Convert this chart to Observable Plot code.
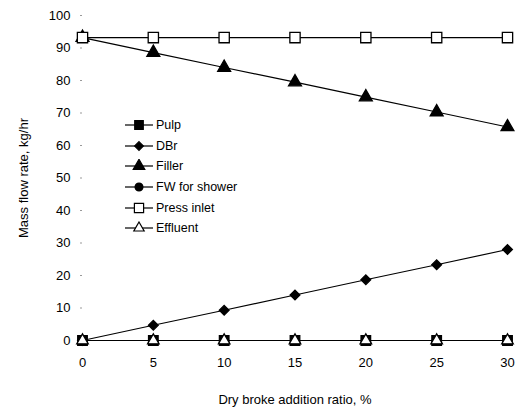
<!DOCTYPE html>
<html>
<head>
<meta charset="utf-8">
<script src="https://cdn.jsdelivr.net/npm/d3@7"></script>
<script src="https://cdn.jsdelivr.net/npm/@observablehq/plot@0.6"></script>
<style>
  body { margin: 0; background: #fff; }
  #wrap { position: relative; width: 515px; height: 410px; font-family: "Liberation Sans", Arial, sans-serif; }
  #legend { position: absolute; left: 124px; top: 115px; font-size: 12.5px; color: #000; }
  #legend .row { display: flex; align-items: center; height: 20.6px; }
  #legend svg { display: block; margin-right: 2px; }
</style>
</head>
<body>
<div id="wrap"><div id="legend"></div></div>
<script>
const ratio = [0, 5, 10, 15, 20, 25, 30];
const pulp = [0, 0, 0, 0, 0, 0, 0];
const dbr = [0, 4.7, 9.3, 14.0, 18.7, 23.3, 28.0];
const filler = [93.2, 88.6, 84.0, 79.5, 74.9, 70.3, 65.7];
const fwShower = [0, 0, 0, 0, 0, 0, 0];
const pressInlet = [93.2, 93.2, 93.2, 93.2, 93.2, 93.2, 93.2];
const effluent = [0, 0, 0, 0, 0, 0, 0];
const yTicks = [0, 10, 20, 30, 40, 50, 60, 70, 80, 90, 100];
const xTicks = [0, 5, 10, 15, 20, 25, 30];

const series = [
  {name: "Pulp", values: pulp, symbol: "square", fill: "black", r: 5.4},
  {name: "DBr", values: dbr, symbol: "diamond2", fill: "black", r: 4.4},
  {name: "Filler", values: filler, symbol: "triangle", fill: "black", r: 4.8},
  {name: "FW for shower", values: fwShower, symbol: "circle", fill: "black", r: 4.4},
  {name: "Press inlet", values: pressInlet, symbol: "square", fill: "white", r: 5.8},
  {name: "Effluent", values: effluent, symbol: "triangle", fill: "white", r: 4.3}
];

const marks = [];
for (const s of series) {
  const data = ratio.map((x, i) => ({x, y: s.values[i]}));
  marks.push(Plot.line(data, {x: "x", y: "y", stroke: "black", strokeWidth: 1.2}));
}
for (const s of series) {
  const data = ratio.map((x, i) => ({x, y: s.values[i]}));
  marks.push(Plot.dot(data, {x: "x", y: "y", symbol: () => s.symbol, fill: s.fill, stroke: "black", strokeWidth: 1.3, r: s.r}));
}

const chart = Plot.plot({
  width: 515,
  height: 410,
  marginLeft: 82,
  marginRight: 8,
  marginTop: 15,
  marginBottom: 70,
  style: {fontFamily: "Liberation Sans, Arial, sans-serif", fontSize: "13px", color: "black", background: "white"},
  symbol: {type: "identity"},
  x: {domain: [0, 30]},
  y: {domain: [0, 100]},
  marks: [
    Plot.axisY({ticks: yTicks, tickSize: 2, tickPadding: 10, stroke: "#999", label: "Mass flow rate, kg/hr", labelAnchor: "center", labelOffset: 64, labelArrow: "none", fontSize: 13}),
    Plot.axisX({ticks: xTicks, tickSize: 0, tickPadding: 17, label: "Dry broke addition ratio, %", labelAnchor: "center", labelOffset: 63, labelArrow: "none", fontSize: 13}),
    ...marks
  ]
});
document.getElementById("wrap").prepend(chart);

// legend
const legend = d3.select("#legend");
const symMap = {square: d3.symbolSquare, diamond2: d3.symbolDiamond2, triangle: d3.symbolTriangle, circle: d3.symbolCircle};
for (const s of series) {
  const row = legend.append("div").attr("class", "row");
  const svg = row.append("svg").attr("width", 30).attr("height", 14);
  svg.append("line").attr("x1", 1).attr("x2", 29).attr("y1", 7).attr("y2", 7).attr("stroke", "black").attr("stroke-width", 1.2);
  svg.append("path")
    .attr("transform", "translate(15,7)")
    .attr("d", d3.symbol(symMap[s.symbol], Math.PI * s.r * s.r * 0.8)())
    .attr("fill", s.fill).attr("stroke", "black").attr("stroke-width", 1.2);
  row.append("span").text(s.name);
}
</script>
</body>
</html>
